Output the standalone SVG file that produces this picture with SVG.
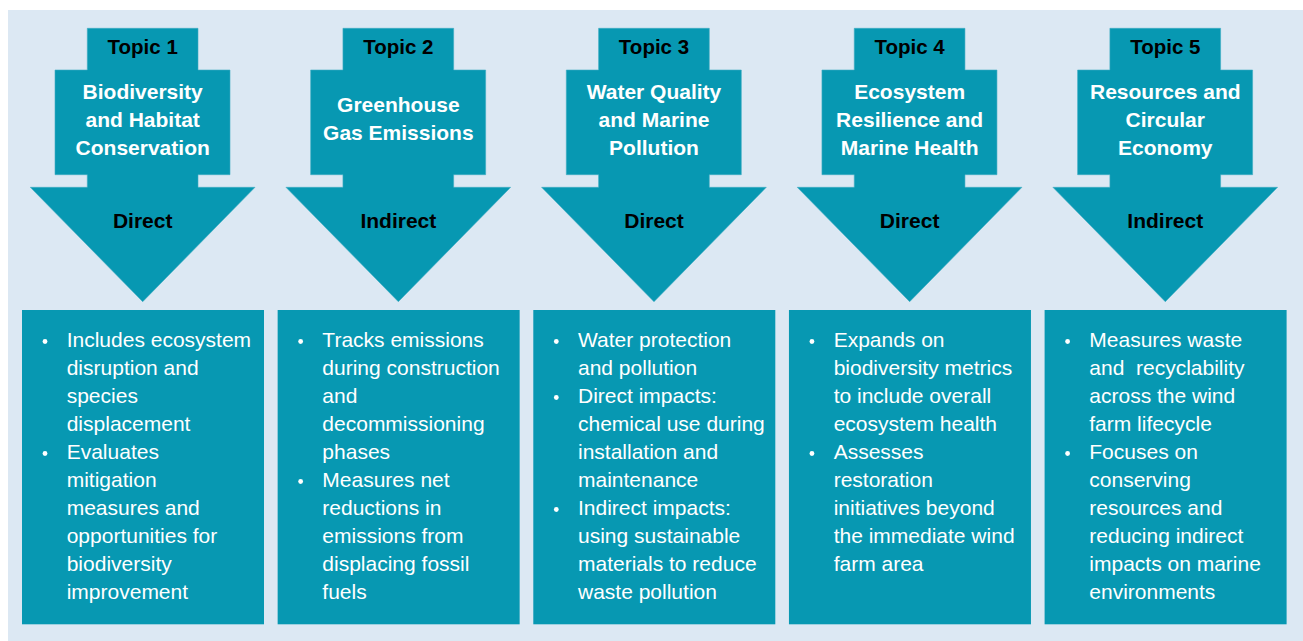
<svg xmlns="http://www.w3.org/2000/svg" width="1303" height="641" viewBox="0 0 1303 641">
  <style>
    .arrow { fill: #0798b2; stroke: #3fadc3; stroke-width: 0.6; }
    .box { fill: #0798b2; }
    .topic { font-family: "Liberation Sans", Arial, sans-serif; font-weight: bold; font-size: 20.5px; fill: #000; text-anchor: middle; }
    .title { font-family: "Liberation Sans", Arial, sans-serif; font-weight: bold; font-size: 21px; fill: #fff; text-anchor: middle; }
    .kind { font-family: "Liberation Sans", Arial, sans-serif; font-weight: bold; font-size: 21px; fill: #000; text-anchor: middle; }
    .body { font-family: "Liberation Sans", Arial, sans-serif; font-size: 21px; fill: #fff; }
    .dot { fill: #fff; }
  </style>
  <defs>
    <!-- topic tab + title panel + stem + arrowhead, drawn around centre x = 142.7 -->
    <path id="topicArrow" class="arrow" d="M87.3,28.3 H198 V70 H230 V174.7 H198 V187.3 H255 L142.7,301.7 L30.3,187.3 H87.3 V174.7 H55 V70 H87.3 Z"/>
    <rect id="detailBox" class="box" x="22" y="310" width="242" height="314.3"/>
    <circle id="bullet" class="dot" r="2.4"/>
  </defs>

  <!-- backdrop -->
  <rect x="8" y="10" width="1295" height="631" fill="#dce8f3"/>

  <!-- Topic 1 -->
  <g id="topic1">
    <use href="#topicArrow"/>
    <text class="topic" x="142.7" y="54">Topic 1</text>
    <text class="title" x="142.7" y="99">Biodiversity</text>
    <text class="title" x="142.7" y="127">and Habitat</text>
    <text class="title" x="142.7" y="155">Conservation</text>
    <text class="kind" x="142.7" y="228">Direct</text>
    <use href="#detailBox"/>
    <use href="#bullet" x="45" y="341.5"/>
    <use href="#bullet" x="45" y="453.5"/>
    <text class="body" x="66.7">
      <tspan x="66.7" y="347">Includes ecosystem</tspan>
      <tspan x="66.7" y="375">disruption and</tspan>
      <tspan x="66.7" y="403">species</tspan>
      <tspan x="66.7" y="431">displacement</tspan>
      <tspan x="66.7" y="459">Evaluates</tspan>
      <tspan x="66.7" y="487">mitigation</tspan>
      <tspan x="66.7" y="515">measures and</tspan>
      <tspan x="66.7" y="543">opportunities for</tspan>
      <tspan x="66.7" y="571">biodiversity</tspan>
      <tspan x="66.7" y="599">improvement</tspan>
    </text>
  </g>

  <!-- Topic 2 -->
  <g id="topic2" transform="translate(255.65,0)">
    <use href="#topicArrow"/>
    <text class="topic" x="142.7" y="54">Topic 2</text>
    <text class="title" x="142.7" y="112">Greenhouse</text>
    <text class="title" x="142.7" y="140">Gas Emissions</text>
    <text class="kind" x="142.7" y="228">Indirect</text>
    <use href="#detailBox"/>
    <use href="#bullet" x="45" y="341.5"/>
    <use href="#bullet" x="45" y="481.5"/>
    <text class="body">
      <tspan x="66.7" y="347">Tracks emissions</tspan>
      <tspan x="66.7" y="375">during construction</tspan>
      <tspan x="66.7" y="403">and</tspan>
      <tspan x="66.7" y="431">decommissioning</tspan>
      <tspan x="66.7" y="459">phases</tspan>
      <tspan x="66.7" y="487">Measures net</tspan>
      <tspan x="66.7" y="515">reductions in</tspan>
      <tspan x="66.7" y="543">emissions from</tspan>
      <tspan x="66.7" y="571">displacing fossil</tspan>
      <tspan x="66.7" y="599">fuels</tspan>
    </text>
  </g>

  <!-- Topic 3 -->
  <g id="topic3" transform="translate(511.3,0)">
    <use href="#topicArrow"/>
    <text class="topic" x="142.7" y="54">Topic 3</text>
    <text class="title" x="142.7" y="99">Water Quality</text>
    <text class="title" x="142.7" y="127">and Marine</text>
    <text class="title" x="142.7" y="155">Pollution</text>
    <text class="kind" x="142.7" y="228">Direct</text>
    <use href="#detailBox"/>
    <use href="#bullet" x="45" y="341.5"/>
    <use href="#bullet" x="45" y="397.5"/>
    <use href="#bullet" x="45" y="509.5"/>
    <text class="body">
      <tspan x="66.7" y="347">Water protection</tspan>
      <tspan x="66.7" y="375">and pollution</tspan>
      <tspan x="66.7" y="403">Direct impacts:</tspan>
      <tspan x="66.7" y="431">chemical use during</tspan>
      <tspan x="66.7" y="459">installation and</tspan>
      <tspan x="66.7" y="487">maintenance</tspan>
      <tspan x="66.7" y="515">Indirect impacts:</tspan>
      <tspan x="66.7" y="543">using sustainable</tspan>
      <tspan x="66.7" y="571">materials to reduce</tspan>
      <tspan x="66.7" y="599">waste pollution</tspan>
    </text>
  </g>

  <!-- Topic 4 -->
  <g id="topic4" transform="translate(766.95,0)">
    <use href="#topicArrow"/>
    <text class="topic" x="142.7" y="54">Topic 4</text>
    <text class="title" x="142.7" y="99">Ecosystem</text>
    <text class="title" x="142.7" y="127">Resilience and</text>
    <text class="title" x="142.7" y="155">Marine Health</text>
    <text class="kind" x="142.7" y="228">Direct</text>
    <use href="#detailBox"/>
    <use href="#bullet" x="45" y="341.5"/>
    <use href="#bullet" x="45" y="453.5"/>
    <text class="body">
      <tspan x="66.7" y="347">Expands on</tspan>
      <tspan x="66.7" y="375">biodiversity metrics</tspan>
      <tspan x="66.7" y="403">to include overall</tspan>
      <tspan x="66.7" y="431">ecosystem health</tspan>
      <tspan x="66.7" y="459">Assesses</tspan>
      <tspan x="66.7" y="487">restoration</tspan>
      <tspan x="66.7" y="515">initiatives beyond</tspan>
      <tspan x="66.7" y="543">the immediate wind</tspan>
      <tspan x="66.7" y="571">farm area</tspan>
    </text>
  </g>

  <!-- Topic 5 -->
  <g id="topic5" transform="translate(1022.6,0)">
    <use href="#topicArrow"/>
    <text class="topic" x="142.7" y="54">Topic 5</text>
    <text class="title" x="142.7" y="99">Resources and</text>
    <text class="title" x="142.7" y="127">Circular</text>
    <text class="title" x="142.7" y="155">Economy</text>
    <text class="kind" x="142.7" y="228">Indirect</text>
    <use href="#detailBox"/>
    <use href="#bullet" x="45" y="341.5"/>
    <use href="#bullet" x="45" y="453.5"/>
    <text class="body" xml:space="preserve"><tspan x="66.7" y="347">Measures waste</tspan><tspan x="66.7" y="375">and  recyclability</tspan><tspan x="66.7" y="403">across the wind</tspan><tspan x="66.7" y="431">farm lifecycle</tspan><tspan x="66.7" y="459">Focuses on</tspan><tspan x="66.7" y="487">conserving</tspan><tspan x="66.7" y="515">resources and</tspan><tspan x="66.7" y="543">reducing indirect</tspan><tspan x="66.7" y="571">impacts on marine</tspan><tspan x="66.7" y="599">environments</tspan></text>
  </g>
</svg>
